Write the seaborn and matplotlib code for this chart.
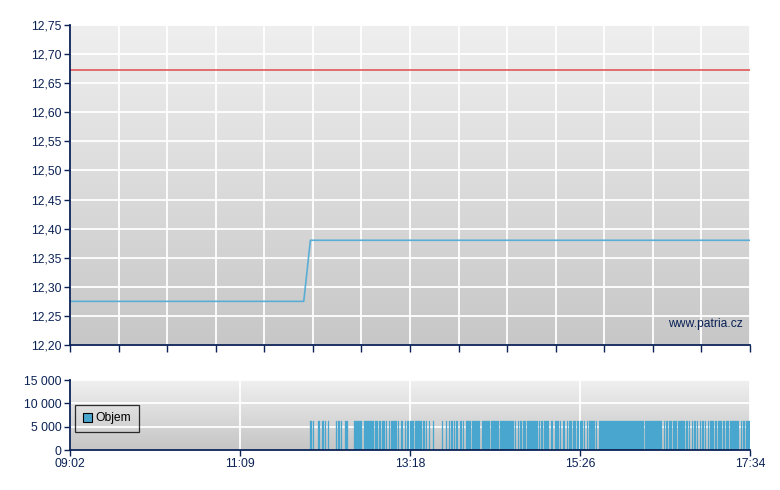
import numpy as np
import pandas as pd
import matplotlib
matplotlib.use("Agg")
import matplotlib.pyplot as plt
import seaborn as sns
from matplotlib.ticker import FixedLocator
from matplotlib.patches import Patch
from matplotlib.colors import LinearSegmentedColormap

# ---------------- data ----------------
# minutes after 09:02
price_minutes = [0, 176, 181, 512]
price_values = [12.275, 12.275, 12.38, 12.38]
reference_price = 12.673

# traded minutes (inclusive ranges) in the sparse part of the session
sparse_trade_ranges = [
    (181, 181), (183, 183), (187, 187), (190, 190), (192, 192), (194, 194),
    (200, 200), (202, 202), (204, 204), (207, 208),
    (214, 219), (221, 228), (230, 231), (233, 233), (235, 236), (238, 238),
    (240, 240), (242, 245), (247, 247), (249, 250), (252, 252), (254, 254),
    (256, 258), (260, 264), (266, 266), (268, 268), (270, 270), (273, 273),
    (280, 280), (283, 283), (285, 285), (287, 287), (289, 289), (291, 291),
    (294, 294), (296, 296), (298, 301), (303, 308), (310, 315), (317, 322),
    (324, 333), (335, 335), (337, 337), (339, 339), (341, 341),
]
# dense part: every minute traded except these
dense_range = (342, 511)
dense_gap_minutes = [
    343, 352, 354, 356, 361, 364, 368, 370, 373, 375, 378, 381, 383, 386,
    388, 390, 395, 397, 432, 446, 448, 450, 453, 457, 463, 465, 467, 469,
    471, 473, 475, 477, 479, 481, 485, 487, 491, 493, 496, 504, 506, 508,
]
bar_volume = 6200

x_tick_minutes = [0, 128, 256, 384, 512]
x_tick_labels = ["09:02", "11:09", "13:18", "15:26", "17:34"]
price_ticks = [12.20, 12.25, 12.30, 12.35, 12.40, 12.45, 12.50, 12.55, 12.60, 12.65, 12.70, 12.75]
volume_ticks = [0, 5000, 10000, 15000]
volume_tick_labels = ["0", "5 000", "10 000", "15 000"]

# ---------------- build tables ----------------
trade_minutes = []
for a, b in sparse_trade_ranges:
    trade_minutes.extend(range(a, b + 1))
trade_minutes.extend(m for m in range(dense_range[0], dense_range[1] + 1)
                     if m not in dense_gap_minutes)
vol_df = pd.DataFrame({"minute": np.array(trade_minutes, dtype=float) + 0.5,
                       "volume": np.full(len(trade_minutes), float(bar_volume))})
price_df = pd.DataFrame({"minute": price_minutes, "price": price_values})

# ---------------- style ----------------
sns.set_style("white")
plt.rcParams["font.family"] = ["Liberation Sans", "DejaVu Sans"]
NAVY = "#0b2255"
BLUE = "#48a6cf"
FS = 8.7

fig = plt.figure(figsize=(7.8, 4.9), dpi=100)
ax1 = fig.add_axes([70 / 780, 1 - 345 / 490, 680 / 780, 320 / 490])
ax2 = fig.add_axes([70 / 780, 1 - 450 / 490, 680 / 780, 70 / 490])


def gradient(ax, top, bottom):
    grad = np.linspace(0, 1, 256).reshape(-1, 1)
    cmap = LinearSegmentedColormap.from_list("g", [top, bottom])
    ax.imshow(grad, extent=[0, 1, 0, 1], transform=ax.transAxes, cmap=cmap,
              aspect="auto", zorder=-10, origin="upper")


def style_axes(ax):
    for s in ["top", "right"]:
        ax.spines[s].set_visible(False)
    for s in ["left", "bottom"]:
        ax.spines[s].set_color(NAVY)
        ax.spines[s].set_linewidth(1.3)
        ax.spines[s].set_zorder(5)
    ax.set_axisbelow(True)
    ax.grid(True, color="white", lw=1.3)
    ax.set_xlabel("")
    ax.set_ylabel("")


# ---- top: price ----
gradient(ax1, "#efefef", "#c7c7c7")
sns.lineplot(data=price_df, x="minute", y="price", ax=ax1, color="#5aaed6",
             lw=1.2, zorder=3)
ax1.axhline(reference_price, color="#e04a4a", lw=1.1, zorder=3)
ax1.set_xlim(0, 512)
ax1.set_ylim(12.20, 12.75)
ax1.yaxis.set_major_locator(FixedLocator(price_ticks))
ax1.set_yticklabels([f"{v:.2f}".replace(".", ",") for v in price_ticks])
ax1.xaxis.set_major_locator(FixedLocator(np.linspace(0, 512, 15)))
style_axes(ax1)
ax1.tick_params(axis="x", bottom=True, length=5, width=1, color=NAVY,
                labelbottom=False, direction="out")
ax1.tick_params(axis="y", left=True, length=4, width=1, color=NAVY,
                labelcolor=NAVY, labelsize=FS, pad=2, direction="out")
ax1.text(0.99, 0.065, "www.patria.cz", transform=ax1.transAxes, ha="right",
         va="center", color=NAVY, fontsize=FS)

# ---- bottom: volume ----
gradient(ax2, "#f0f0f0", "#c5c5c5")
sns.histplot(data=vol_df, x="minute", weights="volume", binwidth=1,
             binrange=(0, 512), ax=ax2, color=BLUE, alpha=1, edgecolor=BLUE,
             linewidth=0.2, zorder=3)
ax2.set_xlim(0, 512)
ax2.set_ylim(0, 15000)
ax2.xaxis.set_major_locator(FixedLocator(x_tick_minutes))
ax2.set_xticklabels(x_tick_labels)
ax2.yaxis.set_major_locator(FixedLocator(volume_ticks))
ax2.set_yticklabels(volume_tick_labels)
style_axes(ax2)
ax2.tick_params(axis="x", bottom=True, length=4, width=1, color=NAVY,
                labelcolor=NAVY, labelsize=FS, pad=2, direction="out")
ax2.tick_params(axis="y", left=True, length=4, width=1, color=NAVY,
                labelcolor=NAVY, labelsize=FS, pad=2, direction="out")

leg = ax2.legend(handles=[Patch(facecolor=BLUE, edgecolor="black", lw=0.8)],
                 labels=["Objem"], loc="upper left",
                 bbox_to_anchor=(0.007, 0.65), borderaxespad=0,
                 fancybox=False, frameon=True, fontsize=FS,
                 handlelength=0.75, handleheight=0.75, handletextpad=0.3,
                 borderpad=0.65)
leg.get_frame().set_facecolor("none")
leg.get_frame().set_edgecolor("black")
leg.get_frame().set_linewidth(0.9)
for t in leg.get_texts():
    t.set_color("black")

fig.savefig("out.png", dpi=100)
